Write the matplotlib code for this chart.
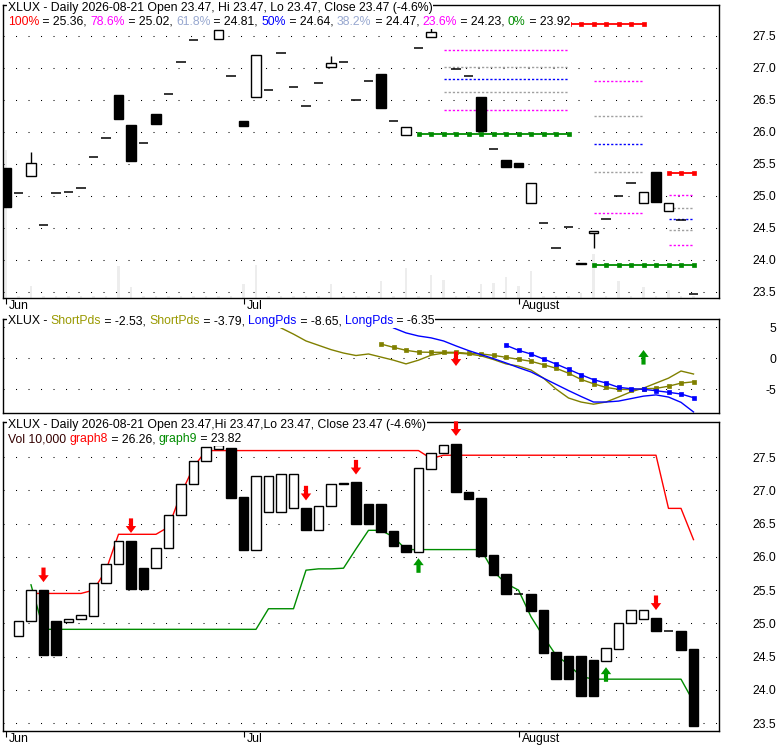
import numpy as np
import matplotlib
matplotlib.use('Agg')
from matplotlib import pyplot as plt
from matplotlib.ticker import FormatStrFormatter

plt.rcParams['font.family'] = ['Liberation Sans', 'DejaVu Sans']
plt.rcParams['lines.scale_dashes'] = False

nan = np.nan
days = np.arange(56)
month_pos = [0, 19, 41]
month_names = ['Jun', 'Jul', 'August']

# --- top panel: daily candles ---
opens = [25.44, 25.04, 25.32, 24.54, 25.04, 25.07, 25.12, 25.61, 25.91, 26.58,
         26.11, 25.82, 26.28, 26.60, 27.09, 27.43, 27.65, 27.46, 26.87, 26.17,
         26.55, 26.65, 27.24, 26.71, 26.40, 26.77, 27.01, 27.10, 26.50, 26.80,
         26.91, 26.17, 25.96, 27.31, 27.48, 27.62, 26.98, 26.87, 26.55, 25.73,
         25.57, 25.51, 24.89, 24.58, 24.18, 24.51, 23.95, 24.42, 24.64, 25.00,
         25.20, 24.89, 25.37, 24.77, 24.62, 23.47]
closes = [24.83, 25.04, 25.51, 24.54, 25.04, 25.07, 25.12, 25.61, 25.91, 26.21,
          25.54, 25.82, 26.13, 26.60, 27.09, 27.43, 27.65, 27.60, 26.87, 26.09,
          27.20, 26.65, 27.24, 26.71, 26.40, 26.77, 27.07, 27.10, 26.50, 26.80,
          26.38, 26.17, 26.08, 27.31, 27.56, 27.62, 26.98, 26.87, 26.02, 25.73,
          25.45, 25.45, 25.21, 24.58, 24.18, 24.51, 23.93, 24.46, 24.64, 25.00,
          25.20, 25.07, 24.90, 24.89, 24.62, 23.47]
wick_days = [2, 26, 34, 47]
wick_tops = [25.69, 27.19, 27.62, 24.46]
wick_bottoms = [25.51, 27.07, 27.56, 24.18]

volume = [592000, 10000, 48000, 10000, 10000, 10000, 10000, 10000, 10000, 128000,
          44000, 10000, 10000, 10000, 10000, 10000, 10000, 10000, 10000, 56000,
          132000, 10000, 10000, 10000, 10000, 10000, 56000, 10000, 10000, 10000,
          68000, 10000, 120000, 10000, 92000, 72000, 10000, 10000, 56000, 60000,
          84000, 48000, 108000, 10000, 10000, 10000, 20000, 176000, 10000, 68000,
          10000, 44000, 10000, 32000, 10000, 10000]

# fibonacci retracements
fib_names = ['78.6%', '61.8%', '50%', '38.2%', '23.6%']
fib_sets = [[27.28, 27.02, 26.83, 26.62, 26.34],
            [26.80, 26.25, 25.81, 25.37, 24.73],
            [25.02, 24.81, 24.64, 24.47, 24.23]]
fib_spans = [(35, 45), (47, 51), (53, 55)]
fib_top_levels = [27.69, 25.36]
fib_top_spans = [(45, 51), (53, 55)]
fib_base_levels = [25.97, 23.92]
fib_base_spans = [(33, 45), (47, 55)]

# --- middle panel ---
short_a = [nan] * 22 + [4.9, 3.9, 2.8, 2.1, 1.4, 0.85, 0.45, 0.7, 0.2, -0.3,
                        -0.9, -0.3, 0.5, 0.85, 0.85, 0.7, 0.4, -0.2, -0.9, -1.25,
                        -1.9, -3.2, -4.95, -6.4, -7.05, -7.4, -7.05, -6.25, -5.4, -4.8,
                        -4.0, -3.2, -2.05, -2.53]
short_b = [nan] * 30 + [2.3, 1.77, 1.29, 1.0, 0.97, 0.97, 0.97, 0.8, 0.7, 0.48,
                        0.16, -0.16, -0.48, -1.03, -1.6, -2.4, -3.4, -4.1, -4.7, -5.0,
                        -5.05, -4.9, -4.85, -4.5, -4.0, -3.79]
long_a = [nan] * 31 + [4.9, 4.1, 3.6, 3.3, 2.8, 2.0, 1.25, 0.6, -0.05, -0.75,
                       -1.5, -2.2, -3.2, -4.2, -5.2, -6.15, -7.05, -7.05, -6.9, -6.5,
                       -6.1, -5.9, -6.25, -7.1, -8.65]
long_b = [nan] * 40 + [2.1, 1.29, 0.69, -0.11, -0.92, -1.77, -2.65, -3.45, -3.98, -4.68,
                       -4.9, -5.0, -5.23, -5.48, -5.76, -6.35]
mid_down_days, mid_down_tips = [36], [-1.24]
mid_up_days, mid_up_tips = [51], [1.34]

# --- bottom panel ---
bar_open = [nan, 24.81, 25.03, 25.50, 25.03, 25.02, 25.07, 25.11, 25.60, 25.90,
            26.24, 25.83, 25.83, 26.14, 26.63, 27.10, 27.45, 27.63, 27.64, 26.90,
            26.11, 26.67, 26.67, 26.73, 26.73, 26.41, 26.77, 27.09, 27.12, 26.80,
            26.80, 26.39, 26.18, 26.08, 27.33, 27.57, 27.70, 26.98, 26.88, 26.03,
            25.74, 25.44, 25.44, 25.20, 24.57, 24.51, 24.51, 24.45, 24.44, 24.62,
            25.00, 25.07, 25.08, 24.89, 24.88, 24.61]
bar_close = [nan, 25.03, 25.50, 24.53, 24.53, 25.07, 25.12, 25.60, 25.90, 26.24,
             25.51, 25.51, 26.14, 26.63, 27.10, 27.45, 27.65, 27.68, 26.89, 26.11,
             27.22, 27.22, 27.25, 27.25, 26.41, 26.77, 27.09, 27.11, 26.50, 26.50,
             26.38, 26.17, 26.08, 27.34, 27.57, 27.69, 26.98, 26.87, 26.02, 25.73,
             25.44, 25.44, 25.19, 24.56, 24.17, 24.17, 23.91, 23.91, 24.63, 25.01,
             25.20, 25.20, 24.89, 24.89, 24.60, 23.46]
graph8 = [nan, nan, 25.45, 25.45, 25.45, 25.45, 25.45, 25.50, 25.80, 26.34,
          26.34, 26.34, 26.34, 26.45, 26.95, 27.35, 27.60, 27.60, 27.60, 27.60,
          27.60, 27.60, 27.60, 27.60, 27.60, 27.60, 27.60, 27.60, 27.60, 27.60,
          27.60, 27.60, 27.60, 27.60, 27.48, 27.53, 27.53, 27.53, 27.53, 27.53,
          27.53, 27.53, 27.53, 27.53, 27.53, 27.53, 27.53, 27.53, 27.53, 27.53,
          27.53, 27.53, 27.53, 26.73, 26.73, 26.26]
graph9 = [nan, nan, 25.58, 24.91, 24.91, 24.91, 24.91, 24.91, 24.91, 24.91,
          24.91, 24.91, 24.91, 24.91, 24.91, 24.91, 24.91, 24.91, 24.91, 24.91,
          24.91, 25.22, 25.22, 25.22, 25.80, 25.82, 25.82, 25.83, 26.12, 26.40,
          26.40, 26.30, 26.11, 26.11, 26.11, 26.11, 26.11, 26.11, 26.11, 25.78,
          25.60, 25.50, 25.10, 24.80, 24.52, 24.38, 24.20, 24.16, 24.16, 24.16,
          24.16, 24.16, 24.16, 24.16, 24.16, 23.82]
low_down_days = [3, 10, 24, 28, 36, 52]
low_down_tips = [25.62, 26.36, 26.85, 27.24, 27.82, 25.20]
low_up_days = [33, 48]
low_up_tips = [25.98, 24.34]

RED, MAG, GRAY, BLUE, GREEN = '#ff0000', '#ff00ff', '#a0a0a0', '#0000ff', '#008c00'
OLIVE = '#808000'
fib_colors = [MAG, GRAY, BLUE, GRAY, MAG]

W, H = 780, 745
fig = plt.figure(figsize=(7.8, 7.45), dpi=100)


def box(x0, y0, x1, y1):
    return [x0 / W, 1 - y1 / H, (x1 - x0) / W, (y1 - y0) / H]


ax1 = fig.add_axes(box(3, 5, 719, 298))
ax2 = fig.add_axes(box(3, 319, 719, 413))
ax3 = fig.add_axes(box(3, 422, 719, 731))

vol_ax = ax1.twinx()
vol_ax.bar(days, volume, width=0.2, color='#ededed')
vol_ax.set_ylim(0, 1172000)
vol_ax.set_axis_off()
ax1.set_zorder(vol_ax.get_zorder() + 1)
ax1.patch.set_visible(False)


def style(ax, ylim, yticks, fmt):
    ax.set_xlim(-0.24, 57.04)
    ax.set_ylim(*ylim)
    ax.yaxis.tick_right()
    ax.set_yticks(yticks)
    ax.yaxis.set_major_formatter(FormatStrFormatter(fmt))
    ax.tick_params(axis='y', length=0, pad=41, labelsize=8.8)
    plt.setp(ax.get_yticklabels(), ha='right')
    ax.grid(axis='y', color='black', linewidth=0.75, linestyle=(0, (0.75, 8.25)))
    ax.set_axisbelow(True)
    for s in ax.spines.values():
        s.set_linewidth(1.0)


def months(ax):
    ax.set_xticks(month_pos, [''] * len(month_pos))
    ax.tick_params(axis='x', length=4.3, width=0.8, direction='out')
    for p, name in zip(month_pos, month_names):
        ax.annotate(name, xy=(p, 0), xycoords=('data', 'axes fraction'),
                    xytext=(2.2, -1.6), textcoords='offset points',
                    ha='left', va='top', fontsize=8.8, annotation_clip=False)


def candles(ax, o, c, width=0.76):
    o = np.asarray(o, float)
    c = np.asarray(c, float)
    ok = ~np.isnan(o)
    up = ok & (c > o)
    dn = ok & (c < o)
    flat = ok & (c == o)
    ax.bar(days[up], (c - o)[up], bottom=o[up], width=width,
           facecolor='white', edgecolor='black', linewidth=1.0, zorder=3)
    ax.bar(days[dn], (o - c)[dn], bottom=c[dn], width=width,
           facecolor='black', edgecolor='black', linewidth=1.0, zorder=3)
    ax.hlines(o[flat], days[flat] - width / 2, days[flat] + width / 2,
              color='black', linewidth=1.1, zorder=3)


def arrows(ax, xs, tips, color, up):
    for xi, tip in zip(xs, tips):
        ax.annotate('', xy=(xi, tip), xytext=(0, -10.5 if up else 10.5),
                    textcoords='offset points',
                    arrowprops=dict(arrowstyle='simple,head_length=0.5,head_width=0.75,tail_width=0.3',
                                    color=color, shrinkA=0, shrinkB=0,
                                    mutation_scale=10, lw=0))


def header(ax, x_px, y_px, parts):
    prev = None
    for txt, col in parts:
        kw = dict(color=col, fontsize=8.8, va='bottom', ha='left', zorder=10,
                  bbox=dict(facecolor='white', edgecolor='none', pad=0.4))
        if prev is None:
            prev = ax.text(x_px / W, 1 - y_px / H, txt, transform=fig.transFigure, **kw)
        else:
            prev = ax.annotate(txt, xy=(1, 0), xycoords=prev, annotation_clip=False, **kw)


# top panel
candles(ax1, opens, closes)
ax1.vlines(wick_days, wick_bottoms, wick_tops, color='black', linewidth=1.0, zorder=2.9)
for levels, (a, b) in zip(fib_sets, fib_spans):
    for lv, col in zip(levels, fib_colors):
        ax1.plot([a, b], [lv, lv], color=col, lw=1.0, linestyle=(0, (1.6, 1.4)), zorder=2.5)
for lv, (a, b) in zip(fib_top_levels, fib_top_spans):
    xs = days[a:b + 1]
    ax1.plot(xs, [lv] * len(xs), '-s', color=RED, lw=1.3, ms=2.2, mew=0.5, zorder=2.6)
for lv, (a, b) in zip(fib_base_levels, fib_base_spans):
    xs = days[a:b + 1]
    ax1.plot(xs, [lv] * len(xs), '-s', color=GREEN, lw=1.3, ms=2.2, mew=0.5, zorder=2.6)
style(ax1, (23.406, 27.984), np.arange(23.5, 27.51, 0.5), '%.1f')
months(ax1)

header(ax1, 8, 14, [('XLUX - Daily 2026-08-21 Open 23.47, Hi 23.47, Lo 23.47, Close 23.47 (-4.6%)', 'black')])
header(ax1, 8, 28, [('100%', RED), (' = 25.36, ', 'black'), ('78.6%', MAG), (' = 25.02, ', 'black'),
                    ('61.8%', '#98a8d0'), (' = 24.81, ', 'black'), ('50%', BLUE), (' = 24.64, ', 'black'),
                    ('38.2%', '#98a8d0'), (' = 24.47, ', 'black'), ('23.6%', MAG), (' = 24.23, ', 'black'),
                    ('0%', GREEN), (' = 23.92', 'black')])

# middle panel
ax2.plot(days, short_a, color=OLIVE, lw=1.0)
ax2.plot(days, short_b, color=OLIVE, lw=1.0, marker='s', ms=2.4, mew=0.5)
ax2.plot(days, long_a, color=BLUE, lw=1.0)
ax2.plot(days, long_b, color=BLUE, lw=1.0, marker='s', ms=2.4, mew=0.5)
arrows(ax2, mid_down_days, mid_down_tips, RED, False)
arrows(ax2, mid_up_days, mid_up_tips, '#009900', True)
style(ax2, (-8.82, 6.34), [-5, 0, 5], '%g')
ax2.set_xticks([])
header(ax2, 8, 327, [('XLUX - ', 'black'), ('ShortPds', '#999900'), (' = -2.53, ', 'black'),
                     ('ShortPds', '#999900'), (' = -3.79, ', 'black'), ('LongPds', BLUE),
                     (' = -8.65, ', 'black'), ('LongPds', BLUE), (' = -6.35', 'black')])

# bottom panel
ax3.plot(days, graph8, color=RED, lw=1.0, zorder=2)
ax3.plot(days, graph9, color=GREEN, lw=1.0, zorder=2)
candles(ax3, bar_open, bar_close)
arrows(ax3, low_down_days, low_down_tips, RED, False)
arrows(ax3, low_up_days, low_up_tips, '#009900', True)
style(ax3, (23.38, 28.03), np.arange(23.5, 27.51, 0.5), '%.1f')
months(ax3)
header(ax3, 8, 431, [('XLUX - Daily 2026-08-21 Open 23.47,Hi 23.47,Lo 23.47, Close 23.47 (-4.6%)', 'black')])
header(ax3, 8, 445, [('Vol 10,000 ', '#330000'), ('graph8', RED), (' = 26.26, ', 'black'),
                     ('graph9', GREEN), (' = 23.82', 'black')])

fig.savefig('out.png', dpi=100, facecolor='white')
